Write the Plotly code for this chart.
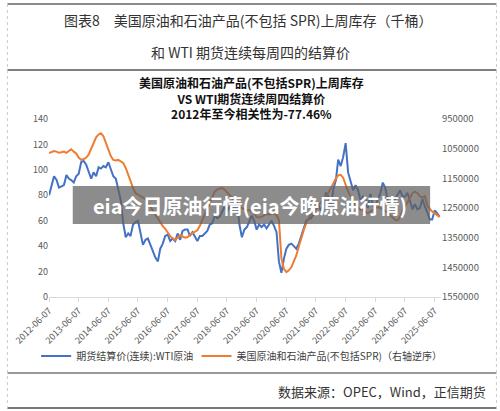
import pandas as pd
import plotly.graph_objects as go

# ---------------- data (monthly readings from the chart) ----------------
dates = (pd.date_range("2012-06-01", "2025-08-01", freq="MS") + pd.Timedelta(days=7)).strftime("%Y-%m-%d").tolist()

wti = [
    80, 88, 95, 92, 86, 87, 88,                          # 2012 Jun-Dec
    96, 93, 92, 90, 95, 97, 106, 107, 104, 98, 93, 98,   # 2013
    95, 102, 101, 103, 102, 106, 101, 95, 93, 84, 76, 58,  # 2014
    47, 50, 48, 57, 59, 60, 50, 41, 45, 46, 41, 36,      # 2015
    31, 28, 38, 42, 48, 49, 44, 46, 44, 50, 45, 52,      # 2016
    53, 53, 48, 51, 48, 44, 48, 48, 50, 52, 57, 58,      # 2017
    64, 62, 63, 67, 71, 67, 71, 68, 70, 75, 57, 47,      # 2018
    53, 55, 59, 64, 60, 53, 57, 55, 57, 54, 57, 60,      # 2019
    56, 51, 28, 19, 30, 38, 41, 42, 40, 38, 42, 48,      # 2020
    53, 60, 61, 62, 65, 71, 72, 68, 72, 82, 79, 72,      # 2021
    85, 92, 108, 103, 110, 121, 98, 91, 84, 88, 84, 76,  # 2022
    79, 77, 70, 81, 72, 70, 77, 81, 90, 86, 76, 72,      # 2023
    74, 77, 81, 84, 79, 79, 82, 76, 69, 73, 69, 70,      # 2024
    77, 71, 67, 61, 61, 68, 66, 63,                      # 2025 Jan-Aug
]

stocks = [
    1065000, 1062000, 1058000, 1060000, 1064000, 1062000, 1060000,
    1064000, 1057000, 1052000, 1060000, 1066000, 1080000, 1088000, 1085000, 1080000, 1070000, 1050000, 1030000,
    1012000, 1002000, 998000, 1008000, 1030000, 1052000, 1075000, 1088000, 1090000, 1088000, 1092000, 1098000,
    1115000, 1140000, 1162000, 1182000, 1200000, 1206000, 1212000, 1215000, 1220000, 1233000, 1245000, 1255000,
    1270000, 1284000, 1298000, 1311000, 1320000, 1334000, 1345000, 1352000, 1358000, 1350000, 1342000, 1346000,
    1350000, 1348000, 1340000, 1335000, 1330000, 1325000, 1310000, 1290000, 1270000, 1250000, 1230000, 1210000,
    1195000, 1188000, 1185000, 1182000, 1188000, 1196000, 1205000, 1215000, 1225000, 1235000, 1245000, 1250000,
    1255000, 1258000, 1257000, 1262000, 1270000, 1280000, 1282000, 1280000, 1275000, 1270000, 1272000, 1270000,
    1268000, 1275000, 1290000, 1420000, 1455000, 1466000, 1460000, 1450000, 1430000, 1410000, 1380000, 1350000,
    1325000, 1300000, 1285000, 1270000, 1262000, 1255000, 1240000, 1232000, 1220000, 1210000, 1198000, 1183000,
    1165000, 1150000, 1140000, 1138000, 1148000, 1175000, 1195000, 1210000, 1225000, 1240000, 1248000, 1255000,
    1258000, 1262000, 1267000, 1262000, 1258000, 1250000, 1247000, 1250000, 1255000, 1258000, 1265000, 1275000,
    1282000, 1290000, 1292000, 1280000, 1260000, 1245000, 1232000, 1215000, 1200000, 1195000, 1200000, 1210000,
    1215000, 1210000, 1240000, 1252000, 1262000, 1268000, 1274000, 1280000,
]

xtick_labels = ["%d-06-07" % y for y in range(2012, 2026)]
left_ticks = [0, 20, 40, 60, 80, 100, 120, 140]
right_ticks = [950000, 1050000, 1150000, 1250000, 1350000, 1450000, 1550000]

name_wti = "期货结算价(连续):WTI原油"
name_stk = "美国原油和石油产品(不包括SPR)（右轴逆序）"

# ---------------- layout helpers (pixel -> paper) ----------------
W, H = 500, 411
L, R, T, B = 45, 441, 119, 297


def px(x):
    return (x - L) / (R - L)


def py(y):
    return (B - y) / (B - T)


FONT = "Noto Sans CJK SC"
BLUE = "#4472C4"
ORANGE = "#ED7D31"

fig = go.Figure()
fig.add_trace(go.Scatter(x=dates, y=wti, name=name_wti, mode="lines",
                         line=dict(color=BLUE, width=2), legend="legend"))
fig.add_trace(go.Scatter(x=dates, y=stocks, name=name_stk, mode="lines",
                         line=dict(color=ORANGE, width=2), yaxis="y2", legend="legend2"))

legend_common = dict(orientation="h", xanchor="left", yanchor="middle", y=py(356),
                     font=dict(size=10, color="#404040"), itemwidth=30,
                     bgcolor="rgba(0,0,0,0)", borderwidth=0)

fig.update_layout(
    width=W, height=H,
    margin=dict(l=L, r=W - R, t=T, b=H - B),
    paper_bgcolor="white", plot_bgcolor="white",
    font=dict(family=FONT, size=9, color="#595959"),
    showlegend=True,
    legend=dict(x=px(32), **legend_common),
    legend2=dict(x=px(194), **legend_common),
    xaxis=dict(type="date", range=["2012-06-07", "2025-08-25"],
               tickmode="array", tickvals=xtick_labels, ticktext=xtick_labels,
               tickangle=-45, tickfont=dict(size=9, color="#595959"),
               showgrid=False, zeroline=False, showline=True, linecolor="#d9d9d9", linewidth=1,
               ticks="outside", ticklen=4, tickcolor="#d9d9d9"),
    yaxis=dict(range=[0, 140], tickvals=left_ticks, showgrid=False, zeroline=False,
               showline=False, ticks="", tickfont=dict(size=9, color="#595959")),
    yaxis2=dict(range=[1550000, 950000], tickvals=right_ticks, tickformat="d",
                overlaying="y", side="right", showgrid=False, zeroline=False,
                showline=False, ticks="", tickfont=dict(size=9.5, color="#595959")),
)

annotations = [
    dict(text="图表8　美国原油和石油产品(不包括 SPR)上周库存（千桶）", x=px(246), y=py(20),
         font=dict(size=14, color="#333333")),
    dict(text="和 WTI 期货连续每周四的结算价", x=px(249), y=py(52),
         font=dict(size=14, color="#333333")),
    dict(text="<b>美国原油和石油产品(不包括SPR)上周库存<br>VS WTI期货连续周四结算价<br>"
              "2012年至今相关性为-77.46%</b>", x=px(250), y=py(98),
         font=dict(size=12, color="#111111")),
    dict(text="数据来源：OPEC，Wind，正信期货", x=px(488), y=py(391), xanchor="right",
         font=dict(size=13, color="#333333")),
    dict(text="<b>eia今日原油行情(eia今晚原油行情)</b>", x=px(248), y=py(205),
         font=dict(size=20, color="white")),
]
for a in annotations:
    a.setdefault("xanchor", "center")
    fig.add_annotation(xref="paper", yref="paper", showarrow=False, yanchor="middle", **a)

shapes = [
    # frame lines
    dict(type="line", x0=px(3), x1=px(497), y0=py(4), y1=py(4), line=dict(color="#666666", width=1.5)),
    dict(type="line", x0=px(3), x1=px(497), y0=py(70), y1=py(70), line=dict(color="#555555", width=1.5)),
    dict(type="line", x0=px(3), x1=px(497), y0=py(373), y1=py(373), line=dict(color="#777777", width=1.5)),
    dict(type="line", x0=px(3), x1=px(497), y0=py(408), y1=py(408), line=dict(color="#777777", width=2)),
    dict(type="line", x0=px(3), x1=px(3), y0=py(4), y1=py(408), line=dict(color="#cccccc", width=1, dash="dot")),
    dict(type="line", x0=px(497), x1=px(497), y0=py(4), y1=py(408), line=dict(color="#cccccc", width=1, dash="dot")),
    # watermark box
    dict(type="rect", x0=px(69), x1=px(430), y0=py(186), y1=py(224), layer="above",
         fillcolor="rgba(95,95,95,0.72)", line=dict(width=0)),
]
for s in shapes:
    fig.add_shape(xref="paper", yref="paper", **s)

fig.write_html("out.html")
